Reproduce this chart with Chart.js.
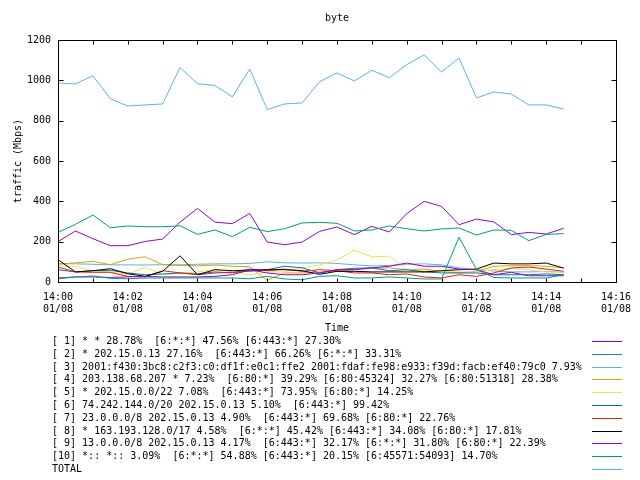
<!DOCTYPE html>
<html>
<head>
<meta charset="utf-8">
<title>byte</title>
<script src="https://cdn.jsdelivr.net/npm/chart.js@4.4.1/dist/chart.umd.min.js"></script>
<style>
  html, body { margin: 0; padding: 0; background: #fff; }
  canvas { display: block; }
</style>
</head>
<body>
<canvas id="trafficChart" width="640" height="480"></canvas>
<script>
// sample times, minutes after 14:00 (01/08)
const minutes = [0, 0.5, 1, 1.5, 2, 2.5, 3, 3.5, 4, 4.5, 5, 5.5, 6, 6.5, 7,
                 7.5, 8, 8.5, 9, 9.5, 10, 10.5, 11, 11.5, 12, 12.5, 13, 13.5, 14, 14.5];

// traffic per flow group, Mbps
const flow1 = [200, 253, 215, 180, 180, 201, 213, 297, 365, 297, 289, 340, 198, 185, 198,
               251, 273, 235, 276, 248, 339, 400, 375, 284, 312, 298, 235, 246, 238, 266];
const flow2 = [246, 286, 332, 269, 278, 274, 274, 279, 236, 258, 225, 271, 250, 264, 293,
               296, 291, 253, 258, 278, 264, 253, 263, 268, 233, 258, 256, 205, 236, 240];
const flow3 = [91, 90, 88, 85, 85, 84, 86, 85, 88, 90, 90, 92, 100, 95, 94,
               95, 92, 85, 80, 82, 88, 90, 85, 70, 60, 55, 50, 50, 52, 48];
const flow4 = [88, 95, 102, 86, 113, 125, 86, 82, 80, 84, 78, 76, 8, 45, 45,
               50, 53, 61, 70, 70, 61, 64, 53, 45, 53, 78, 81, 81, 78, 70];
const flow5 = [80, 77, 55, 50, 38, 74, 35, 43, 50, 62, 50, 35, 50, 50, 70,
               85, 110, 158, 125, 128, 62, 55, 52, 50, 50, 62, 66, 60, 50, 45];
const flow6 = [74, 50, 56, 58, 45, 36, 40, 45, 36, 45, 48, 53, 61, 78, 70,
               45, 61, 68, 70, 56, 61, 50, 45, 45, 45, 36, 36, 36, 40, 36];
const flow7 = [61, 50, 48, 48, 28, 25, 56, 45, 40, 50, 45, 64, 56, 64, 53,
               61, 56, 45, 45, 36, 40, 25, 20, 36, 28, 45, 70, 74, 64, 53];
const flow8 = [111, 50, 56, 66, 41, 28, 53, 130, 36, 61, 56, 59, 61, 61, 56,
               38, 53, 53, 50, 50, 50, 50, 56, 61, 64, 94, 90, 90, 94, 69];
const flow9 = [20, 25, 25, 23, 25, 28, 25, 25, 25, 28, 36, 61, 45, 36, 36,
               45, 61, 61, 70, 78, 94, 78, 78, 64, 61, 36, 48, 31, 31, 31];
const flow10 = [16, 25, 30, 18, 16, 20, 20, 20, 20, 20, 20, 16, 28, 15, 11,
                28, 31, 20, 20, 25, 20, 15, 15, 222, 62, 22, 20, 20, 20, 36];
const total = [987, 982, 1023, 909, 873, 878, 883, 1064, 983, 975, 918, 1056, 855, 883, 888,
               993, 1037, 997, 1050, 1013, 1078, 1126, 1041, 1111, 913, 942, 932, 878, 878, 858];

const seriesLabels = [
    '[ 1] * * 28.78%  [6:*:*] 47.56% [6:443:*] 27.30%',
    '[ 2] * 202.15.0.13 27.16%  [6:443:*] 66.26% [6:*:*] 33.31%',
    '[ 3] 2001:f430:3bc8:c2f3:c0:df1f:e0c1:ffe2 2001:fdaf:fe98:e933:f39d:facb:ef40:79c0 7.93%',
    '[ 4] 203.138.68.207 * 7.23%  [6:80:*] 39.29% [6:80:45324] 32.27% [6:80:51318] 28.38%',
    '[ 5] * 202.15.0.0/22 7.08%  [6:443:*] 73.95% [6:80:*] 14.25%',
    '[ 6] 74.242.144.0/20 202.15.0.13 5.10%  [6:443:*] 99.42%',
    '[ 7] 23.0.0.0/8 202.15.0.13 4.90%  [6:443:*] 69.68% [6:80:*] 22.76%',
    '[ 8] * 163.193.128.0/17 4.58%  [6:*:*] 45.42% [6:443:*] 34.08% [6:80:*] 17.81%',
    '[ 9] 13.0.0.0/8 202.15.0.13 4.17%  [6:443:*] 32.17% [6:*:*] 31.80% [6:80:*] 22.39%',
    '[10] *:: *:: 3.09%  [6:*:*] 54.88% [6:443:*] 20.15% [6:45571:54093] 14.70%',
    'TOTAL'
];
const seriesValues = [flow1, flow2, flow3, flow4, flow5, flow6, flow7, flow8, flow9, flow10, total];
const seriesColors = ['#9400d3', '#009e73', '#56b4e9', '#e69f00', '#f0e442', '#0072b2',
                      '#e51e10', '#000000', '#9400d3', '#009e73', '#56b4e9'];

const yTicks = [0, 200, 400, 600, 800, 1000, 1200];

Chart.defaults.font.family = "'DejaVu Sans Mono', monospace";
Chart.defaults.font.size = 10;
Chart.defaults.color = '#000';

// gnuplot look: full border, inward ticks, title, key at the bottom
const gnuplotFrame = {
    id: 'gnuplotFrame',
    afterDraw(chart) {
        const ctx = chart.ctx;
        const a = chart.chartArea;
        const x = chart.scales.x;
        const y = chart.scales.y;
        const left = Math.round(a.left) + 0.5;
        const right = Math.round(a.right) + 0.5;
        const top = Math.round(a.top) + 0.5;
        const bottom = Math.round(a.bottom) + 0.5;

        ctx.save();
        ctx.strokeStyle = '#000';
        ctx.lineWidth = 1;
        ctx.beginPath();
        ctx.rect(left, top, right - left, bottom - top);
        x.ticks.forEach(t => {
            const px = Math.round(x.getPixelForValue(t.value)) + 0.5;
            ctx.moveTo(px, bottom); ctx.lineTo(px, bottom - 4);
            ctx.moveTo(px, top); ctx.lineTo(px, top + 4);
        });
        y.ticks.forEach(t => {
            const py = Math.round(y.getPixelForValue(t.value)) + 0.5;
            ctx.moveTo(left, py); ctx.lineTo(left + 5, py);
            ctx.moveTo(right, py); ctx.lineTo(right - 5, py);
        });
        ctx.stroke();

        ctx.font = "10px 'DejaVu Sans Mono', monospace";
        ctx.fillStyle = '#000';
        ctx.textBaseline = 'middle';
        ctx.textAlign = 'center';
        ctx.fillText('byte', (a.left + a.right) / 2, 18);

        // key
        ctx.textAlign = 'left';
        chart.data.datasets.forEach((ds, i) => {
            const ky = Math.round(341 + i * 12.8);
            ctx.fillStyle = '#000';
            ctx.fillText(ds.label, 52, ky);
            ctx.strokeStyle = ds.borderColor;
            ctx.beginPath();
            ctx.moveTo(592, ky + 0.5);
            ctx.lineTo(622, ky + 0.5);
            ctx.stroke();
        });
        ctx.restore();
    }
};

const datasets = seriesLabels.map((label, i) => ({
    label: label,
    data: minutes.map((m, j) => ({ x: m, y: seriesValues[i][j] })),
    borderColor: seriesColors[i],
    backgroundColor: seriesColors[i],
    borderWidth: 1,
    pointRadius: 0,
    tension: 0,
    fill: false,
    order: seriesLabels.length - i
}));

const ctx = document.getElementById('trafficChart').getContext('2d');
const trafficChart = new Chart(ctx, {
    type: 'line',
    data: { datasets: datasets },
    options: {
        responsive: false,
        animation: false,
        devicePixelRatio: 1,
        layout: { padding: { left: 0, right: 19, top: 40, bottom: 146 } },
        plugins: {
            legend: { display: false },
            title: { display: false },
            tooltip: { enabled: false }
        },
        scales: {
            x: {
                type: 'linear',
                min: 0,
                max: 16,
                grid: { display: false, drawTicks: false },
                border: { display: false },
                ticks: {
                    stepSize: 1,
                    autoSkip: false,
                    maxRotation: 0,
                    minRotation: 0,
                    padding: 9,
                    callback: function(value) {
                        if (value % 2 !== 0) return '';
                        const mm = String(value).padStart(2, '0');
                        return ['14:' + mm, '01/08'];
                    }
                },
                title: { display: true, text: 'Time', padding: { top: 0, bottom: 0 } },
                afterFit: function(scale) { scale.height = 52; }
            },
            y: {
                min: 0,
                max: 1200,
                grid: { display: false, drawTicks: false },
                border: { display: false },
                afterBuildTicks: function(scale) {
                    scale.ticks = yTicks.map(v => ({ value: v }));
                },
                ticks: {
                    padding: 7,
                    callback: function(value) { return String(value); }
                },
                title: { display: true, text: 'traffic (Mbps)', padding: { top: 12, bottom: 0 } },
                afterFit: function(scale) { scale.width = 58; }
            }
        }
    },
    plugins: [gnuplotFrame]
});
</script>
</body>
</html>
